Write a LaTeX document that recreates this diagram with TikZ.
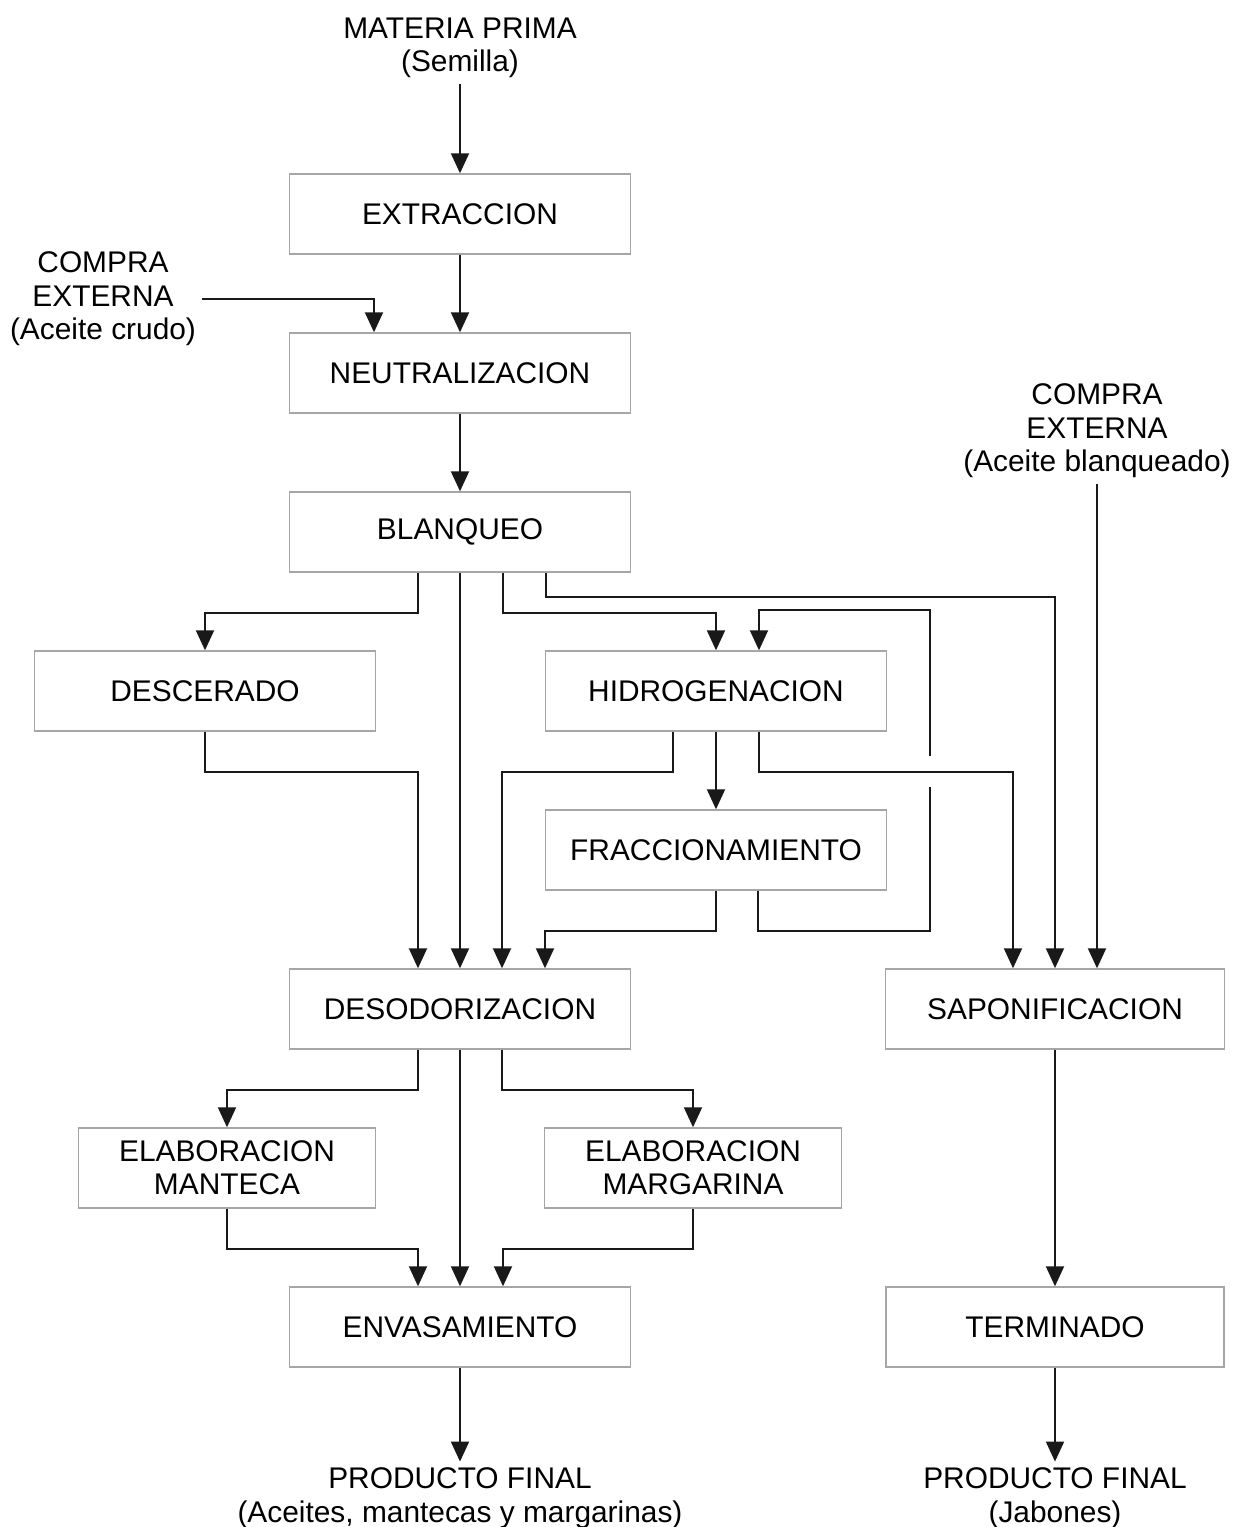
\documentclass[tikz,border=0pt]{standalone}
\usepackage{fontspec}
\setmainfont{Liberation Sans}
\usepackage{tikz}
\usetikzlibrary{positioning, shapes.geometric}
\usetikzlibrary{calc, arrows.meta}
\tikzstyle{process} = [rectangle, minimum width=6.82cm, minimum height=1.6cm, text centered, align=center, draw=black!35, line width=0.8pt]
\tikzstyle{txt} = [align=center]
\tikzstyle{arrow} = [line width=1.1pt, draw=black!90, ->, >={Triangle[length=4mm,width=3.6mm]}]
\tikzstyle{conn} = [line width=1.1pt, draw=black!90]
\tikzstyle{every node}=[font=\fontsize{17}{19}\selectfont]

\begin{document}
\begin{tikzpicture}[node distance=3.18cm,]
		\useasboundingbox (-9.2,4.28) rectangle (15.5,-26.26);
		\node (extraccion) [process] {EXTRACCION};
		\node (materia) [txt, above of=extraccion, yshift=0.14cm] {MATERIA PRIMA\\(Semilla)};
		\node (neutra) [process, below of=extraccion] {NEUTRALIZACION};
		\node (compra1) [txt, left of=neutra, xshift=-3.96cm, yshift=1.48cm] {COMPRA\\EXTERNA\\(Aceite crudo)};
		\node (blanqueo) [process, below of=neutra] {BLANQUEO};
		\node (descerado) [process, below of=blanqueo, xshift=-5.1cm] {DESCERADO};
		\node (hidro) [process, below of=blanqueo, xshift=5.12cm] {HIDROGENACION};
		\node (fracc) [process, below of=hidro] {FRACCIONAMIENTO};
		\node (desodo) [process, below of=fracc, xshift=-5.12cm] {DESODORIZACION};
		\node (sapon) [process, minimum width=6.78cm, below of=fracc, xshift=6.78cm] {SAPONIFICACION};
		\node (compra2) [txt, above of=sapon, xshift=0.84cm, yshift=8.38cm] {COMPRA\\EXTERNA\\(Aceite blanqueado)};
		\node (manteca) [process, minimum width=5.94cm, below of=desodo, xshift=-4.66cm] {ELABORACION\\MANTECA};
		\node (margarina) [process, minimum width=5.94cm, below of=desodo, xshift=4.66cm] {ELABORACION\\MARGARINA};
		\node (envasa) [process, below of=desodo, yshift=-3.18cm] {ENVASAMIENTO};
		\node (termin) [process, minimum width=6.76cm, below of=sapon, yshift=-3.18cm] {TERMINADO};
		\node (prod1) [txt, below of=envasa, yshift=-0.24cm] {PRODUCTO FINAL\\(Aceites, mantecas y margarinas)};
		\node (prod2) [txt, below of=termin, yshift=-0.24cm] {PRODUCTO FINAL\\(Jabones)};
		\coordinate (gapbot) at ($(hidro.south east)+(0.86cm,-1.1cm)$);
		\coordinate (gaptop) at ($(hidro.south east)+(0.86cm,-0.48cm)$);
		\draw [arrow](materia) -- (extraccion);
		\draw [arrow](extraccion) -- (neutra);
		\draw [arrow](compra1.east) -| ([xshift=-1.72cm]neutra.north);
		\draw [arrow](neutra) -- (blanqueo);
		\draw [arrow]([xshift=-0.84cm]blanqueo.south) -- ++(0,-0.8) -| (descerado.north);
		\draw [arrow](blanqueo) -- (desodo);
		\draw [arrow]([xshift=0.86cm]blanqueo.south) -- ++(0,-0.8) -| (hidro.north);
		\draw [arrow]([xshift=1.72cm]blanqueo.south) -- ++(0,-0.48) -| (sapon.north);
		\draw [conn]([xshift=0.84cm]fracc.south) -- ++(0,-0.8) -| (gapbot);
		\draw [arrow](gaptop) |- ([xshift=0.86cm,yshift=0.8cm]hidro.north) -- ([xshift=0.86cm]hidro.north);
		\draw [arrow]([xshift=-0.86cm]hidro.south) -- ++(0,-0.8) -| ([xshift=0.84cm]desodo.north);
		\draw [arrow](hidro) -- (fracc);
		\draw [arrow]([xshift=0.86cm]hidro.south) -- ++(0,-0.8) -| ([xshift=-0.84cm]sapon.north);
		\draw [arrow](fracc.south) -- ++(0,-0.8) -| ([xshift=1.7cm]desodo.north);
		\draw [arrow](descerado.south) -- ++(0,-0.8) -| ([xshift=-0.84cm]desodo.north);
		\draw [arrow](compra2) -- ([xshift=0.84cm]sapon.north);
		\draw [arrow]([xshift=-0.84cm]desodo.south) -- ++(0,-0.8) -| (manteca.north);
		\draw [arrow](desodo) -- (envasa);
		\draw [arrow]([xshift=0.84cm]desodo.south) -- ++(0,-0.8) -| (margarina.north);
		\draw [arrow](manteca.south) -- ++(0,-0.8) -| ([xshift=-0.84cm]envasa.north);
		\draw [arrow](margarina.south) -- ++(0,-0.8) -| ([xshift=0.86cm]envasa.north);
		\draw [arrow](envasa) -- (prod1);
		\draw [arrow](sapon) -- (termin);
		\draw [arrow](termin) -- (prod2);
	\end{tikzpicture}
\end{document}
